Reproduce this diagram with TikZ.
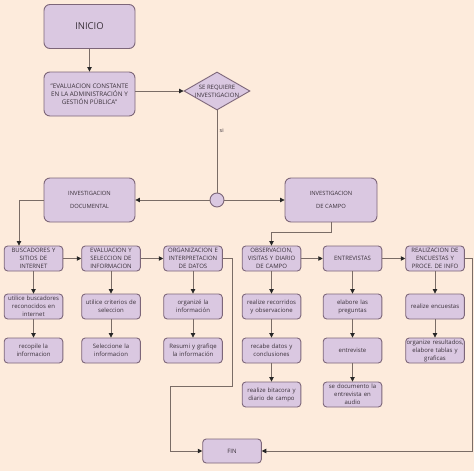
\documentclass[tikz,border=0pt]{standalone}
\usepackage{fontspec}
\setmainfont{Open Sans}
\usetikzlibrary{shapes.geometric,arrows.meta}
\definecolor{bg}{HTML}{FDEBDC}
\definecolor{boxfill}{HTML}{DAC8E1}
\definecolor{boxline}{HTML}{7D6679}
\definecolor{connc}{HTML}{7A6C66}
\definecolor{txt}{HTML}{3A313A}
\begin{document}
\begin{tikzpicture}[x=1pt,y=-1pt,
  bigbox/.style={draw=boxline, fill=boxfill, rounded corners=6pt, line width=0.9pt, minimum width=91pt, minimum height=44pt, align=center, text=txt, font=\fontsize{5.8}{13}\selectfont},
  smallbox/.style={draw=boxline, fill=boxfill, rounded corners=3.5pt, line width=0.9pt, minimum width=58pt, minimum height=25pt, text width=58pt, inner sep=0.3pt, align=center, text=txt, font=\fontsize{6}{8}\selectfont},
  conn/.style={draw=connc, line width=0.8pt},
  arr/.style={conn, -{Triangle[length=4.5pt,width=4.5pt,color=black!85]}}]
\fill[bg] (0,0) rectangle (474,471);
\useasboundingbox (0,0) rectangle (474,471);

\node[bigbox, font=\fontsize{9.5}{11}\selectfont] (inicio) at (89.5,26.5) {INICIO};
\node[bigbox, font=\fontsize{6.3}{7.8}\selectfont] (eval) at (89.5,94) {"EVALUACION CONSTANTE\\EN LA ADMINISTRACIÓN Y\\GESTIÓN PÚBLICA"};
\node[diamond, draw=boxline, fill=boxfill, line width=0.9pt, minimum width=66pt, minimum height=38pt, inner sep=0pt] (dia) at (217,91) {};
\node[align=center, text=txt, font=\fontsize{6}{8}\selectfont, inner sep=0pt] (diat) at (dia.center) {SE REQUIERE\\INVESTIGACION};
\node[text=txt, font=\fontsize{5.5}{6}\selectfont, anchor=west, inner sep=0pt] (si) at (219.5,131) {si};
\node[circle, draw=boxline, fill=boxfill, line width=0.9pt, minimum size=14pt, inner sep=0pt] (circ) at (217,200) {};

\node[bigbox] (doc) at (89.5,200) {INVESTIGACION\\DOCUMENTAL};
\node[bigbox, minimum width=92pt] (campo) at (331,200) {INVESTIGACION\\DE CAMPO};

% row 1
\node[smallbox] (b1) at (33.5,258.5) {BUSCADORES Y\\SITIOS DE\\INTERNET};
\node[smallbox] (b2) at (111,258.5) {EVALUACION Y\\SELECCION DE\\INFORMACION};
\node[smallbox] (b3) at (193,258.5) {ORGANIZACION E\\INTERPRETACION\\DE DATOS};
\node[smallbox] (c1) at (271.5,258.5) {OBSERVACION,\\VISITAS Y DIARIO\\DE CAMPO};
\node[smallbox] (c2) at (352.5,258.5) {ENTREVISTAS};
\node[smallbox] (c3) at (435,258.5) {REALIZACION DE\\ENCUESTAS Y\\PROCE. DE INFO};
% row 2
\node[smallbox] (b1b) at (33.5,306.5) {utilice buscadores\\reconocidos en\\internet};
\node[smallbox] (b2b) at (111,306.5) {utilice criterios de\\seleccion};
\node[smallbox] (b3b) at (193,306.5) {organizé la\\información};
\node[smallbox] (c1b) at (271.5,306.5) {realize recorridos\\y observacione};
\node[smallbox] (c2b) at (352.5,306.5) {elabore las\\preguntas};
\node[smallbox] (c3b) at (435,306.5) {realize encuestas};
% row 3
\node[smallbox] (b1c) at (33.5,350.5) {recopile la\\informacion};
\node[smallbox] (b2c) at (111,350.5) {Seleccione la\\informacion};
\node[smallbox] (b3c) at (193,350.5) {Resumi y grafiqe\\la información};
\node[smallbox] (c1c) at (271.5,350.5) {recabe datos y\\conclusiones};
\node[smallbox] (c2c) at (352.5,350.5) {entreviste};
\node[smallbox] (c3c) at (435,350.5) {organize resultados,\\elabore tablas y\\graficas};
% row 4
\node[smallbox] (c1d) at (271.5,394.5) {realize bitacora y\\diario de campo};
\node[smallbox] (c2d) at (352.5,394.5) {se documento la\\entrevista en\\audio};
% fin
\node[smallbox, minimum height=24pt] (fin) at (232,451) {FIN};

% connectors
\draw[arr] (inicio) -- (eval);
\draw[arr] (eval.east |- dia) -- (dia.west);
\draw[conn] (dia.south) -- (circ.north);
\draw[arr] (circ.west) -- (doc.east);
\draw[arr] (circ.east) -- (campo.west);
\coordinate (d1) at (19,200);
\draw[arr] (doc.west) -- (d1) -- (d1 |- b1.north);
\draw[arr] (campo.south) -- ++(0,10) -| (c1.north);

\draw[arr] (b1) -- (b2);
\draw[arr] (b2) -- (b3);
\draw[arr] (c1) -- (c2);
\draw[arr] (c2) -- (c3);

\draw[arr] (b1) -- (b1b);
\draw[arr] (b1b) -- (b1c);
\draw[arr] (b2) -- (b2b);
\draw[arr] (b2b) -- (b2c);
\draw[arr] (b3) -- (b3b);
\draw[arr] (b3b) -- (b3c);
\draw[arr] (c1) -- (c1b);
\draw[arr] (c1b) -- (c1c);
\draw[arr] (c1c) -- (c1d);
\draw[arr] (c2) -- (c2b);
\draw[arr] (c2b) -- (c2c);
\draw[arr] (c2c) -- (c2d);
\draw[arr] (c3) -- (c3b);
\draw[arr] (c3b) -- (c3c);

\coordinate (k1) at (232,386);
\coordinate (k2) at (170,386);
\draw[arr] (b3.east) -| (k1) -- (k2) |- (fin.west);
\coordinate (r1) at (472,258.5);
\draw[arr] (c3.east) -- (r1) |- (fin.east);
\end{tikzpicture}
\end{document}
